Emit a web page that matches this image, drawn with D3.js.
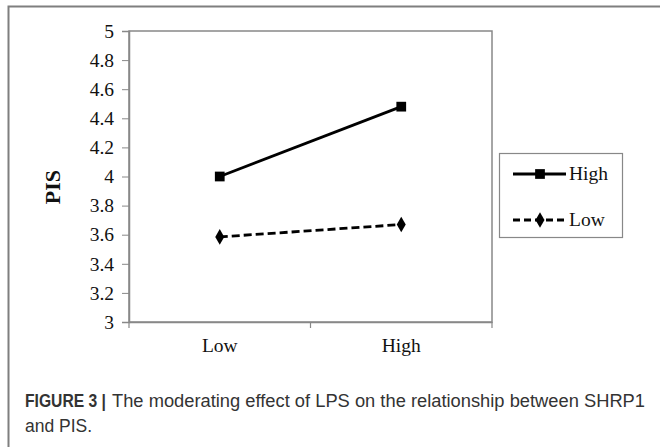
<!DOCTYPE html>
<html><head><meta charset="utf-8">
<script src="https://cdn.jsdelivr.net/npm/d3@7"></script>
<style>body{margin:0;background:#fff}svg{display:block}</style>
</head><body>
<script>
const categories = ["Low", "High"];
const seriesNames = ["High", "Low"];
const highValues = [4.0, 4.48];
const lowValues = [3.585, 3.67];
const yTicks = [3, 3.2, 3.4, 3.6, 3.8, 4, 4.2, 4.4, 4.6, 4.8, 5];

const W = 660, H = 447;
const svg = d3.select("body").append("svg").attr("width", W).attr("height", H);

// outer frame
svg.append("path").attr("d", `M8.5,${H} L8.5,6.5 L${W},6.5`)
  .attr("fill", "none").attr("stroke", "#7f7f7f").attr("stroke-width", 2);

const m = {left: 129, top: 31, right: 492, bottom: 322};
const x = d3.scaleBand().domain(categories).range([m.left, m.right]);
const y = d3.scaleLinear().domain([3, 5]).range([m.bottom, m.top]);

// plot area border
svg.append("rect").attr("x", m.left).attr("y", m.top)
  .attr("width", m.right - m.left).attr("height", m.bottom - m.top)
  .attr("fill", "none").attr("stroke", "#888").attr("stroke-width", 1.5);

const serif = "'Liberation Serif','Times New Roman',serif";
const fs = 19.5;

const yAxis = svg.append("g").attr("transform", `translate(${m.left},0)`)
  .call(d3.axisLeft(y).tickValues(yTicks).tickSize(7).tickPadding(8).tickFormat(d3.format("")));
const xAxis = svg.append("g").attr("transform", `translate(0,${m.bottom})`)
  .call(d3.axisBottom(x).tickSize(0).tickPadding(16));
// category boundary ticks
const bounds = [m.left, m.left + x.bandwidth(), m.right];
xAxis.selectAll(".bt").data(bounds).enter().append("line")
  .attr("x1", d => d).attr("x2", d => d).attr("y1", 0).attr("y2", 6)
  .attr("stroke", "#888").attr("stroke-width", 1.2);

[yAxis, xAxis].forEach(a => {
  a.select(".domain").attr("stroke", "#888").attr("stroke-width", 1.5);
  a.selectAll(".tick line").attr("stroke", "#888");
  a.selectAll("text").attr("font-family", serif).attr("font-size", fs).attr("fill", "#111");
});

// y label
svg.append("text").attr("transform", `translate(60,187) rotate(-90)`)
  .attr("text-anchor", "middle").attr("font-family", serif).attr("font-weight", "bold")
  .attr("font-size", 22).attr("fill", "#111").text("PIS");

const cx = d => x(d) + x.bandwidth() / 2;
const line = d3.line().x(d => cx(d.c)).y(d => y(d.v));
const hiData = categories.map((c, i) => ({c, v: highValues[i]}));
const loData = categories.map((c, i) => ({c, v: lowValues[i]}));

svg.append("path").datum(hiData).attr("d", line).attr("fill", "none")
  .attr("stroke", "#000").attr("stroke-width", 2.8);
svg.append("path").datum(loData).attr("d", line).attr("fill", "none")
  .attr("stroke", "#000").attr("stroke-width", 2.8).attr("stroke-dasharray", "8,4");

const sq = d3.symbol().type(d3.symbolSquare).size(95);
const dm = d3.symbol().type(d3.symbolDiamond).size(70);
svg.selectAll(".hm").data(hiData).enter().append("path")
  .attr("d", sq).attr("transform", d => `translate(${cx(d.c)},${y(d.v)})`).attr("fill", "#000");
svg.selectAll(".lm").data(loData).enter().append("path")
  .attr("d", dm).attr("transform", d => `translate(${cx(d.c)},${y(d.v)})`).attr("fill", "#000");

// legend
const lg = svg.append("g");
lg.append("rect").attr("x", 499.5).attr("y", 153.5).attr("width", 123).attr("height", 84)
  .attr("fill", "#fff").attr("stroke", "#888").attr("stroke-width", 1.2);
const ly = [174, 220];
seriesNames.forEach((s, i) => {
  const g = lg.append("g");
  g.append("line").attr("x1", 513).attr("x2", 566).attr("y1", ly[i]).attr("y2", ly[i])
    .attr("stroke", "#000").attr("stroke-width", 2.8)
    .attr("stroke-dasharray", i === 1 ? "7,4" : null);
  g.append("path").attr("d", i === 0 ? sq : dm).attr("transform", `translate(540,${ly[i]})`).attr("fill", "#000");
  g.append("text").attr("x", 569).attr("y", ly[i]).attr("dy", "0.33em")
    .attr("font-family", serif).attr("font-size", fs).attr("fill", "#111").text(s);
});

// caption
const sans = "'Liberation Sans',Arial,Helvetica,sans-serif";
svg.append("text").attr("x", 25).attr("y", 407).attr("font-family", sans)
  .attr("font-size", 17.5).attr("font-weight", "bold").attr("fill", "#333")
  .attr("textLength", 81).attr("lengthAdjust", "spacingAndGlyphs").text("FIGURE 3 |");
svg.append("text").attr("x", 112).attr("y", 407).attr("font-family", sans)
  .attr("font-size", 17.5).attr("fill", "#333")
  .attr("textLength", 533).attr("lengthAdjust", "spacingAndGlyphs")
  .text("The moderating effect of LPS on the relationship between SHRP1");
svg.append("text").attr("x", 25).attr("y", 432).attr("font-family", sans)
  .attr("font-size", 17.5).attr("fill", "#333").text("and PIS.");
</script>
</body></html>
